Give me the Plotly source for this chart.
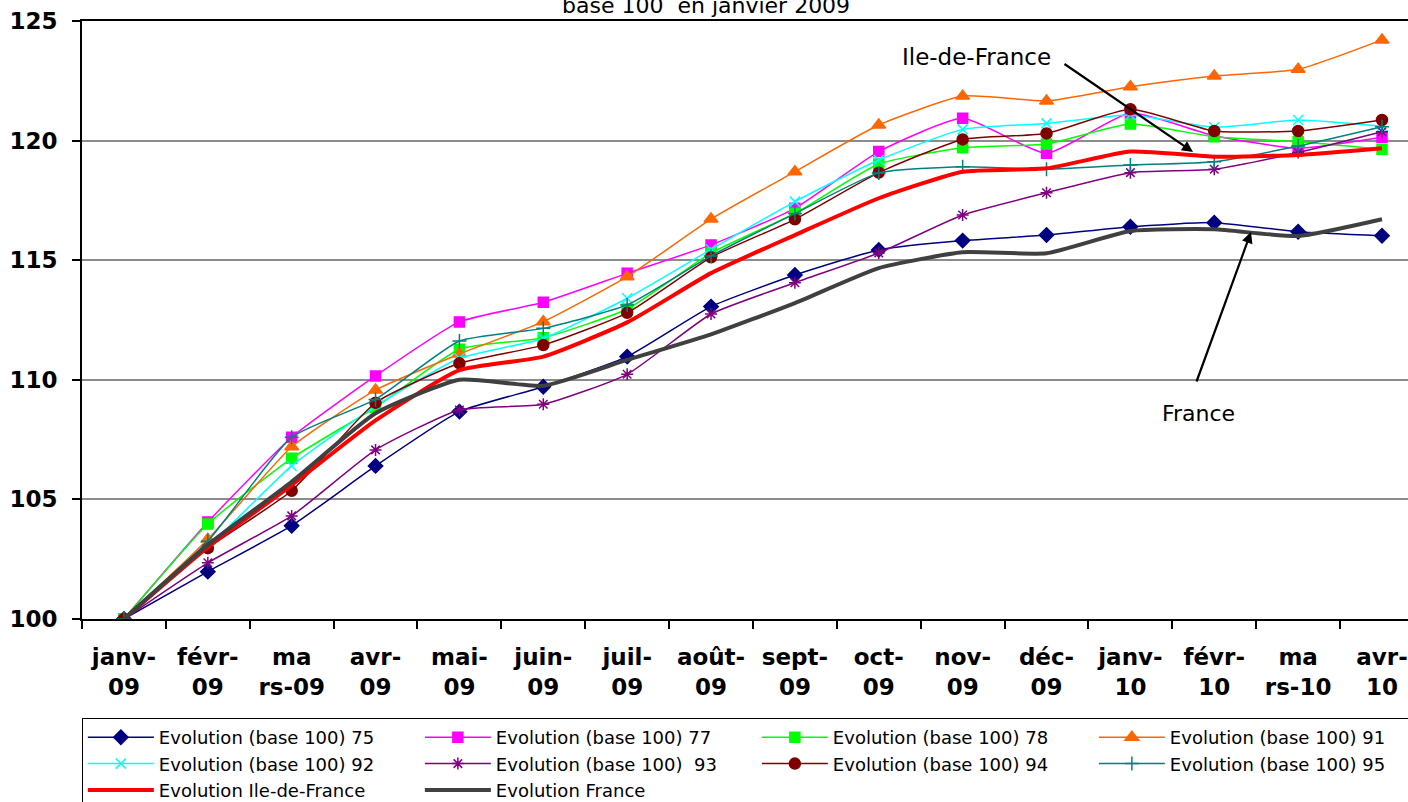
import plotly.graph_objects as go

months = ["janv-<br>09", "févr-<br>09", "ma<br>rs-09", "avr-<br>09", "mai-<br>09", "juin-<br>09",
          "juil-<br>09", "août-<br>09", "sept-<br>09", "oct-<br>09", "nov-<br>09", "déc-<br>09",
          "janv-<br>10", "févr-<br>10", "ma<br>rs-10", "avr-<br>10"]

s75 = [100, 101.98, 103.9, 106.4, 108.67, 109.71, 110.97, 113.06, 114.38, 115.43, 115.82, 116.05, 116.4, 116.57, 116.19, 116.02]
s77 = [100, 104.05, 107.6, 110.16, 112.42, 113.24, 114.45, 115.64, 117.17, 119.54, 120.93, 119.47, 121.15, 120.2, 119.68, 120.14]
s78 = [100, 103.97, 106.72, 108.85, 111.28, 111.76, 112.96, 115.3, 116.96, 119.02, 119.7, 119.86, 120.69, 120.16, 119.95, 119.64]
s91 = [100, 103.33, 107.2, 109.57, 111.08, 112.43, 114.31, 116.72, 118.7, 120.65, 121.86, 121.66, 122.25, 122.7, 122.98, 124.21]
s92 = [100, 103.0, 106.4, 108.9, 110.9, 111.73, 113.41, 115.45, 117.45, 119.19, 120.47, 120.72, 121.07, 120.56, 120.86, 120.6]
s93 = [100, 102.35, 104.31, 107.07, 108.74, 108.98, 110.23, 112.75, 114.06, 115.3, 116.89, 117.82, 118.66, 118.8, 119.5, 120.37]
s94 = [100, 102.96, 105.36, 109.04, 110.69, 111.45, 112.8, 115.12, 116.71, 118.66, 120.05, 120.3, 121.31, 120.4, 120.4, 120.86]
s95 = [100, 103.25, 107.6, 109.18, 111.62, 112.15, 113.13, 115.18, 116.95, 118.65, 118.91, 118.8, 118.98, 119.12, 119.77, 120.58]
idf = [100, 103.0, 105.6, 108.3, 110.4, 110.97, 112.4, 114.46, 116.05, 117.59, 118.7, 118.84, 119.54, 119.33, 119.4, 119.68]
france = [100, 103.1, 105.74, 108.6, 110.0, 109.75, 110.83, 111.9, 113.21, 114.67, 115.33, 115.29, 116.22, 116.29, 116.01, 116.71]

y_ticks = [100, 105, 110, 115, 120, 125]

series = [
    ("Evolution (base 100) 75", s75, "#000080", "diamond", 11, 1.5),
    ("Evolution (base 100) 77", s77, "#FF00FF", "square", 10, 1.5),
    ("Evolution (base 100) 78", s78, "#00FF00", "square", 10, 1.5),
    ("Evolution (base 100) 91", s91, "#FF6600", "triangle-up", 12, 1.5),
    ("Evolution (base 100) 92", s92, "#00FFFF", "x-thin-open", 10, 1.5),
    ("Evolution (base 100)  93", s93, "#800080", "asterisk-open", 10, 1.5),
    ("Evolution (base 100) 94", s94, "#800000", "circle", 11, 1.5),
    ("Evolution (base 100) 95", s95, "#008080", "cross-thin-open", 10, 1.5),
]

FONT = "DejaVu Sans"
fig = go.Figure()
for name, vals, col, sym, size, w in series:
    fig.add_trace(go.Scatter(
        x=months, y=vals, name=name, mode="lines+markers",
        line=dict(color=col, width=w, shape="spline", smoothing=0.5),
        marker=dict(symbol=sym, size=size, color=col, line=dict(color=col, width=1.5)),
    ))
fig.add_trace(go.Scatter(x=months, y=idf, name="Evolution Ile-de-France", mode="lines",
                         line=dict(color="#FF0000", width=4, shape="spline", smoothing=0.5)))
fig.add_trace(go.Scatter(x=months, y=france, name="Evolution France", mode="lines",
                         line=dict(color="#404040", width=4, shape="spline", smoothing=0.5)))

L, T, W, H = 82, 21, 1408, 802
B = 619
pw = W - L
ph = B - T

def px(x):
    return (x - L) / pw

def py(y):
    return (B - y) / ph

fig.update_layout(
    width=W, height=H,
    margin=dict(l=L, r=0, t=T, b=H - B, autoexpand=False),
    paper_bgcolor="white", plot_bgcolor="white",
    font=dict(family=FONT, color="black"),
    showlegend=True,
    legend=dict(
        orientation="h", x=-0.0001, xanchor="left", y=py(718), yanchor="top",
        xref="paper", yref="paper",
        bordercolor="black", borderwidth=1,
        font=dict(family=FONT, size=18, color="black"),
        entrywidth=256, entrywidthmode="pixels",
        tracegroupgap=0, itemwidth=66,
    ),
    xaxis=dict(
        type="category", range=[-0.5, 15.31], automargin=False,
        showline=True, linecolor="black", linewidth=2, mirror=True,
        ticks="outside", ticklen=8, tickcolor="black", tickwidth=1.5,
        tickson="boundaries", showgrid=False,
        tickfont=dict(family=FONT, size=23, color="black", weight="bold"),
        ticklabelstandoff=16,
    ),
    yaxis=dict(
        range=[100, 125], tickvals=y_ticks, automargin=False,
        showline=True, linecolor="black", linewidth=2,
        ticks="outside", ticklen=8, tickcolor="black", tickwidth=1.5,
        showgrid=True, gridcolor="#8c8c8c", gridwidth=2,
        zeroline=False,
        tickfont=dict(family=FONT, size=23, color="black", weight="bold"),
        ticklabelstandoff=10,
    ),
)

# Partially visible subtitle at top
fig.add_annotation(text="base 100  en janvier 2009", xref="paper", yref="paper",
                   x=px(706), y=py(20), xanchor="center", yanchor="bottom",
                   showarrow=False, font=dict(family=FONT, size=22, color="black"))

# Labels
fig.add_annotation(text="Ile-de-France", xref="paper", yref="paper",
                   x=px(976), y=py(57), xanchor="center", yanchor="middle",
                   showarrow=False, font=dict(family=FONT, size=23, color="black"))
fig.add_annotation(text="France", xref="paper", yref="paper",
                   x=px(1198), y=py(413), xanchor="center", yanchor="middle",
                   showarrow=False, font=dict(family=FONT, size=22, color="black"))

# Arrows
fig.add_annotation(text="", xref="paper", yref="paper", x=px(1193), y=py(152),
                   ax=1063 - 1193, ay=63 - 152, showarrow=True,
                   arrowhead=2, arrowsize=1, arrowwidth=2.2, arrowcolor="black")
fig.add_annotation(text="", xref="paper", yref="paper", x=px(1251), y=py(232),
                   ax=1196 - 1251, ay=383 - 232, showarrow=True,
                   arrowhead=2, arrowsize=1, arrowwidth=2.2, arrowcolor="black")

fig.write_html("out.html", config={"displayModeBar": False},
               post_script="document.body.style.margin='0';document.body.style.padding='0';")
